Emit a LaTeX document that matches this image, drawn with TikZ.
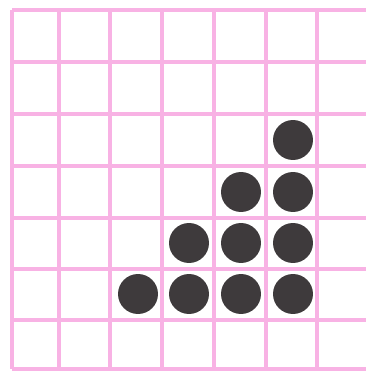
\documentclass[tikz,border=0pt]{standalone}
\usepackage{xcolor}
\definecolor{gridpink}{RGB}{248,178,228}
\definecolor{dotgray}{RGB}{62,58,60}

\begin{document}
\begin{tikzpicture}[
    x=0.02cm, y=-0.02cm,
    gridline/.style={
        draw=gridpink,
        line width=2.1pt
    },
    counter/.style={
        circle,
        fill=dotgray,
        minimum size=0.8cm,
        inner sep=0pt
    }
]
\useasboundingbox (0,0) rectangle (366,372);

% pink grid
\foreach \gx in {12,59,110,162,214,266,317}
    \draw[gridline] (\gx,10) -- (\gx,369);
\foreach \gy in {10,62,114,166,218,269,320,369}
    \draw[gridline] (12,\gy) -- (366,\gy);

% counters, one staircase
\node[counter] (d1) at (293,140) {};
\node[counter] (d2) at (241,192) {};
\node[counter] (d3) at (293,192) {};
\node[counter] (d4) at (189,243) {};
\node[counter] (d5) at (241,243) {};
\node[counter] (d6) at (293,243) {};
\node[counter] (d7) at (138,294) {};
\node[counter] (d8) at (189,294) {};
\node[counter] (d9) at (241,294) {};
\node[counter] (d10) at (293,294) {};

\end{tikzpicture}
\end{document}
